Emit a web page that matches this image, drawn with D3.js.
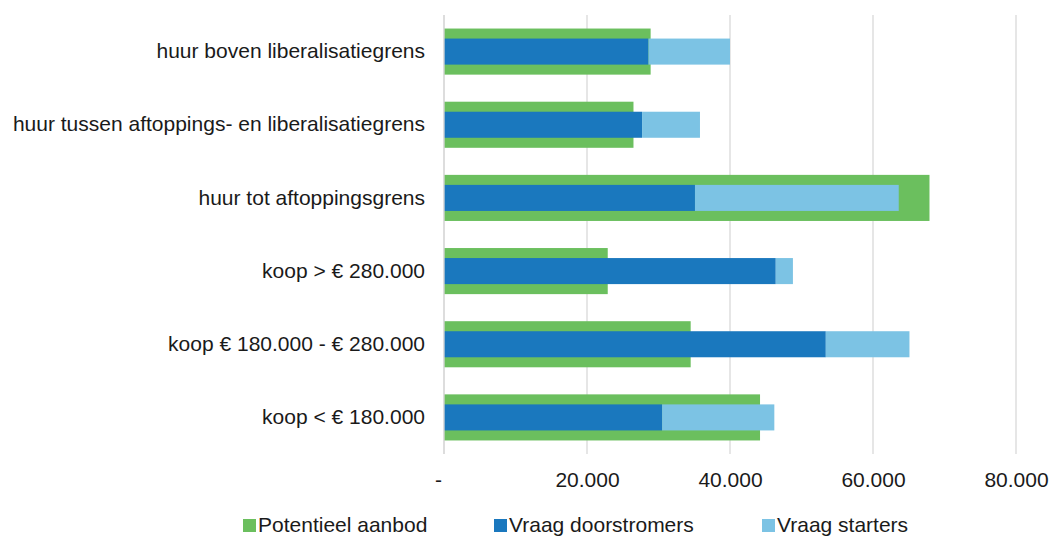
<!DOCTYPE html>
<html>
<head>
<meta charset="utf-8">
<script src="https://cdn.jsdelivr.net/npm/d3@7"></script>
<style>
  html, body { margin: 0; padding: 0; background: #fff; }
  svg { display: block; font-family: "Liberation Sans", Arial, sans-serif; }
</style>
</head>
<body>
<svg id="chart" width="1050" height="536"></svg>
<script>
const categories = [
  "huur boven liberalisatiegrens",
  "huur tussen aftoppings- en liberalisatiegrens",
  "huur tot aftoppingsgrens",
  "koop > € 280.000",
  "koop € 180.000 - € 280.000",
  "koop < € 180.000"
];
const potentieelAanbod = [28900, 26500, 67900, 22900, 34500, 44200];
const vraagDoorstromers = [28600, 27700, 35100, 46400, 53400, 30500];
const vraagStarters = [11400, 8100, 28500, 2400, 11700, 15700];
const tickValues = [0, 20000, 40000, 60000, 80000];
const seriesNames = ["Potentieel aanbod", "Vraag doorstromers", "Vraag starters"];
const seriesColors = ["#6bbf5e", "#1a78be", "#7cc3e4"];

const svg = d3.select("#chart");
const plot = { left: 444, right: 1016, top: 15, bottom: 454 };
const fontSize = 21;

const x = d3.scaleLinear().domain([0, 80000]).range([plot.left, plot.right]);
const y = d3.scaleBand().domain(categories).range([plot.top, plot.bottom]).paddingInner(0.37).paddingOuter(0.185);

const nl = d3.formatLocale({ decimal: ",", thousands: ".", grouping: [3], currency: ["€ ", ""] });
const fmt = v => v === 0 ? "-" : nl.format(",")(v);

// gridlines
svg.append("g").selectAll("line").data(tickValues).join("line")
  .attr("x1", d => x(d)).attr("x2", d => x(d))
  .attr("y1", plot.top).attr("y2", plot.bottom)
  .attr("stroke", "#d9d9d9").attr("stroke-width", 1.3);

// x axis labels
const xAxis = d3.axisBottom(x).tickValues(tickValues).tickFormat(fmt).tickSize(0).tickPadding(0);
const gx = svg.append("g").attr("transform", `translate(0,${plot.bottom})`).call(xAxis);
gx.select(".domain").remove();
gx.selectAll("text")
  .attr("font-size", fontSize).attr("fill", "#1a1a1a")
  .attr("font-family", "Liberation Sans, Arial, sans-serif")
  .attr("dy", null).attr("y", 33)
  .attr("dx", d => d === 0 ? -6 : 0);

// bars
const bh = y.bandwidth();
const innerH = bh * 0.565;
const rows = categories.map((c, i) => ({ c, a: potentieelAanbod[i], d: vraagDoorstromers[i], s: vraagStarters[i] }));

svg.append("g").selectAll("rect").data(rows).join("rect")
  .attr("x", x(0)).attr("y", r => y(r.c))
  .attr("width", r => x(r.a) - x(0)).attr("height", bh)
  .attr("fill", seriesColors[0]);

svg.append("g").selectAll("rect").data(rows).join("rect")
  .attr("x", x(0)).attr("y", r => y(r.c) + (bh - innerH) / 2)
  .attr("width", r => x(r.d) - x(0)).attr("height", innerH)
  .attr("fill", seriesColors[1]);

svg.append("g").selectAll("rect").data(rows).join("rect")
  .attr("x", r => x(r.d)).attr("y", r => y(r.c) + (bh - innerH) / 2)
  .attr("width", r => x(r.d + r.s) - x(r.d)).attr("height", innerH)
  .attr("fill", seriesColors[2]);

// category axis line
svg.append("line")
  .attr("x1", x(0)).attr("x2", x(0)).attr("y1", plot.top).attr("y2", plot.bottom)
  .attr("stroke", "#d9d9d9").attr("stroke-width", 1.3);

// category labels
const yAxis = d3.axisLeft(y).tickSize(0).tickPadding(19);
const gy = svg.append("g").attr("transform", `translate(${plot.left},0)`).call(yAxis);
gy.select(".domain").remove();
gy.selectAll("text")
  .attr("font-size", fontSize).attr("fill", "#1a1a1a")
  .attr("font-family", "Liberation Sans, Arial, sans-serif");

// legend
const legendX = [243, 494, 762];
const leg = svg.append("g").selectAll("g").data(seriesNames).join("g")
  .attr("transform", (d, i) => `translate(${legendX[i]},519)`);
leg.append("rect").attr("width", 13).attr("height", 13).attr("fill", (d, i) => seriesColors[i]);
leg.append("text").attr("x", 15).attr("y", 13)
  .attr("font-size", fontSize).attr("fill", "#1a1a1a").text(d => d);
</script>
</body>
</html>
